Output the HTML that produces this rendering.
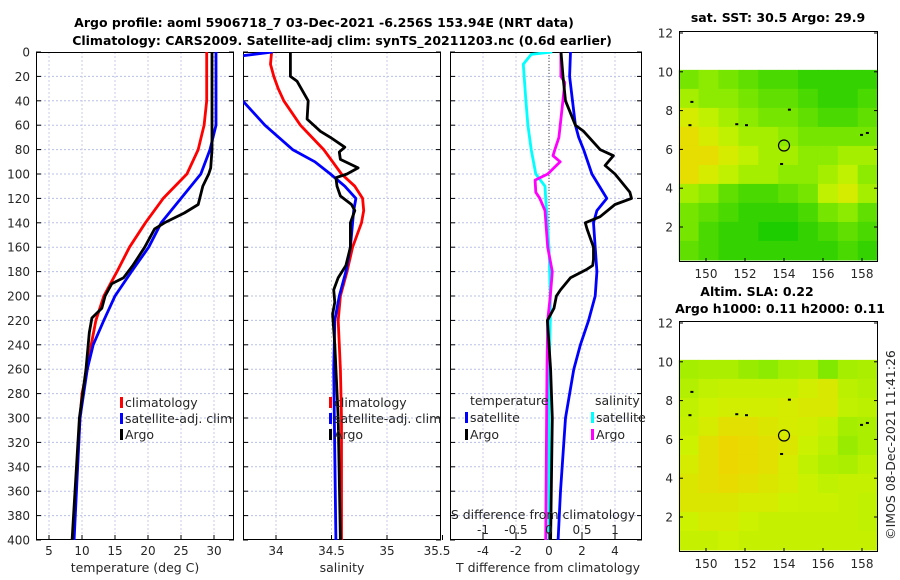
<!DOCTYPE html>
<html><head><meta charset="utf-8"><style>
body{margin:0;background:#fff}
svg{display:block;font-family:"DejaVu Sans","Liberation Sans",sans-serif}
</style></head><body>
<svg id="c" width="900" height="580" viewBox="0 0 900 580"></svg>
<script>
// ---------- data ----------
const depthRedT=[0,20,40,60,80,100,120,140,160,180,200,220,240,260,280,300,340,400];
const climT=[28.9,28.9,28.9,28.5,27.6,25.9,22.3,19.6,17.2,15.3,13.3,12.1,11.4,10.8,10.0,9.7,9.3,8.7];
const depthBlueT=[0,60,80,100,120,140,160,180,200,220,240,260,300,400];
const satT=[30.3,30.3,29.4,28.0,25.0,22.0,20.1,17.5,15.0,13.3,11.7,10.8,9.7,8.8];
const depthArgoT=[0,40,80,95,100,110,125,132,140,145,160,175,185,190,200,210,218,230,260,300,400];
const argoT=[29.7,29.7,29.7,29.5,29.2,28.3,27.6,25.5,22.5,21.0,19.5,17.7,16.3,14.5,13.5,13.0,11.5,11.1,10.6,9.6,8.5];

const depthBlueS=[0,3,10,30,40,60,80,90,100,110,120,130,160,180,200,220,260,400];
const satS=[33.97,33.70,33.3,33.4,33.70,33.90,34.15,34.35,34.49,34.62,34.72,34.70,34.67,34.63,34.57,34.53,34.52,34.54];
const depthRedS=[0,10,20,30,40,60,80,100,110,120,130,140,160,180,200,220,260,300,400];
const climS=[33.96,33.95,33.98,34.02,34.07,34.22,34.43,34.59,34.71,34.78,34.79,34.77,34.69,34.64,34.58,34.56,34.58,34.59,34.59];
const depthArgoS=[0,20,24,40,55,65,70,78,82,88,95,100,103,110,118,125,130,140,160,175,185,195,205,215,240,300,400];
const argoS=[34.13,34.13,34.19,34.29,34.28,34.40,34.49,34.62,34.57,34.58,34.74,34.64,34.54,34.55,34.58,34.68,34.71,34.67,34.67,34.63,34.56,34.52,34.53,34.51,34.53,34.56,34.58];

const depthDTa=[0,20,40,60,65,80,85,93,100,115,120,125,135,140,145,160,170,175,178,185,195,200,210,220,240,260,300,400];
const dTargo=[0.73,0.85,1.0,1.6,2.1,3.1,3.9,3.4,4.0,4.9,5.0,4.0,3.1,2.2,2.3,2.7,2.7,2.65,2.3,1.3,0.7,0.45,0.3,-0.1,0,0.1,0.2,0.1];
const depthDTs=[0,20,60,70,80,100,120,130,140,160,180,200,220,240,260,300,360,400];
const dTsat=[1.3,1.25,1.6,1.8,2.1,2.6,3.5,2.9,2.7,2.8,2.9,2.8,2.4,1.9,1.5,1.0,0.7,0.55];
const depthDSs=[0,2,10,40,60,80,100,110,120,160,200,220,260,400];
const dSsat=[0.05,-0.27,-0.39,-0.35,-0.32,-0.27,-0.2,-0.06,-0.05,0,0.02,0.02,0,0];
const depthDSa=[0,20,25,40,70,80,85,90,100,105,115,120,130,160,180,200,220,260,400];
const dSargo=[0.18,0.18,0.24,0.21,0.15,0.09,0.06,0.17,-0.02,-0.21,-0.2,-0.14,-0.06,-0.02,0.05,0.02,-0.02,-0.03,-0.05];

const depthTicks=[0,20,40,60,80,100,120,140,160,180,200,220,240,260,280,300,320,340,360,380,400];
const tTicks=[5,10,15,20,25,30];
const sTicks=[34,34.5,35,35.5];
const dTTicks=[-4,-2,0,2,4];
const dSTicks=[-1,-0.5,0,0.5,1];
const sstGrid=[
[.4,.5,.4,.3,.2,.2,.1,.1,.1,.1],
[.6,.5,.5,.4,.3,.3,.2,.1,.1,.2],
[.8,.7,.6,.5,.4,.4,.3,.2,.2,.3],
[.9,.8,.7,.6,.6,.5,.4,.4,.4,.4],
[.9,.9,.8,.7,.6,.6,.5,.5,.6,.6],
[.9,.8,.7,.6,.6,.5,.5,.6,.7,.5],
[.6,.5,.3,.2,.2,.3,.4,.7,.8,.6],
[.4,.3,.2,.1,.1,.1,.2,.4,.5,.3],
[.4,.2,.1,.1,0,0,.1,.2,.3,.2],
[.3,.2,.1,.1,.1,.1,.1,.1,.2,.1]];
const slaGrid=[
[.6,.62,.62,.55,.5,.6,.62,.45,.6,.62],
[.65,.7,.72,.72,.72,.72,.78,.82,.68,.65],
[.7,.75,.78,.78,.78,.8,.82,.82,.7,.68],
[.72,.8,.88,.88,.84,.8,.78,.72,.6,.62],
[.75,.88,.95,.92,.88,.84,.74,.68,.55,.62],
[.8,.88,.95,.92,.88,.8,.7,.64,.62,.68],
[.84,.88,.92,.88,.84,.8,.74,.7,.72,.72],
[.84,.84,.84,.8,.8,.75,.74,.74,.72,.7],
[.75,.8,.8,.75,.72,.72,.72,.72,.72,.7],
[.72,.72,.75,.72,.72,.72,.72,.72,.72,.72]];
const lonTicks=[150,152,154,156,158];
const latTicks=[2,4,6,8,10,12];
const argoPos=[154,6.2];

// ---------- helpers ----------
const svg=document.getElementById('c');
const NS='http://www.w3.org/2000/svg';
function el(tag,attrs,parent){const e=document.createElementNS(NS,tag);for(const k in attrs)e.setAttribute(k,attrs[k]);(parent||svg).appendChild(e);return e;}
function txt(s,x,y,opt,parent){const t=el('text',Object.assign({x:x,y:y,'font-size':12,fill:'#262626'},opt||{}),parent);t.textContent=s;return t;}
const Y0=52,Y1=540;
const yD=d=>Y0+d*(Y1-Y0)/400;
function lin(d0,d1,p0,p1){return v=>p0+(v-d0)*(p1-p0)/(d1-d0);}
const P1={x0:36,x1:234}, P2={x0:243,x1:441}, P3={x0:450,x1:642};
const xT=lin(5,30,49,214), xS=lin(34,35,276,387), xDT=lin(0,4,549,615), xDS=lin(0,1,549,615);

function frame(P,name,ticksX,xf){
  const g=el('g',{});
  
  
  el('rect',{x:P.x0,y:Y0,width:P.x1-P.x0,height:Y1-Y0,fill:'#fff'},g);
  depthTicks.forEach(d=>{if(d>0&&d<400)el('line',{x1:P.x0,x2:P.x1,y1:yD(d),y2:yD(d),stroke:'#b8c0e8','stroke-width':1,'stroke-dasharray':'2,2'},g);});
  ticksX.forEach(v=>{const x=xf(v);if(x>P.x0&&x<P.x1)el('line',{x1:x,x2:x,y1:Y0,y2:Y1,stroke:'#c8c8e8','stroke-width':1,'stroke-dasharray':'2,2'},g);});
  depthTicks.forEach(d=>{el('line',{x1:P.x0,x2:P.x0+5,y1:yD(d),y2:yD(d),stroke:'#000'},g);el('line',{x1:P.x1-5,x2:P.x1,y1:yD(d),y2:yD(d),stroke:'#000'},g);});
  ticksX.forEach(v=>{const x=xf(v);if(x>=P.x0&&x<=P.x1+2){el('line',{x1:x,x2:x,y1:Y1,y2:Y1-5,stroke:'#000'},g);}});
  el('rect',{x:P.x0+.5,y:Y0+.5,width:P.x1-P.x0-1,height:Y1-Y0-1,fill:'none',stroke:'#000','stroke-width':1},g);
  const cp=el('clipPath',{id:'cp'+name},g);
  el('rect',{x:P.x0,y:Y0,width:P.x1-P.x0,height:Y1-Y0},cp);
  return g;
}
function line(g,depths,vals,xf,color,name,clip){
  const pts=depths.map((d,i)=>xf(vals[i]).toFixed(1)+','+yD(d).toFixed(1)).join(' ');
  const p=el('polyline',{points:pts,fill:'none',stroke:color,'stroke-width':2.8,'stroke-linejoin':'round','clip-path':'url(#cp'+clip+')'},g);
  
  
}
function legendItem(g,x,y,color,label,name){
  const gg=el('g',{},g);
  
  
  el('rect',{x:x,y:y-10,width:3,height:11,fill:color},gg);
  txt(label,x+5,y,{'font-size':12.5},gg);
}

// titles
txt('Argo profile: aoml 5906718_7 03-Dec-2021 -6.256S 153.94E (NRT data)',324,27,{'font-weight':'bold','font-size':12.5,'text-anchor':'middle',fill:'#000',});
txt('Climatology: CARS2009. Satellite-adj clim: synTS_20211203.nc (0.6d earlier)',342,45,{'font-weight':'bold','font-size':12.5,'text-anchor':'middle',fill:'#000',});

// panel 1
const g1=frame(P1,'temperature-panel',tTicks,xT);
line(g1,depthRedT,climT,xT,'#ff0000','climatology-temperature-line','temperature-panel');
line(g1,depthBlueT,satT,xT,'#0000ff','satellite-temperature-line','temperature-panel');
line(g1,depthArgoT,argoT,xT,'#000000','argo-temperature-line','temperature-panel');
depthTicks.forEach(d=>txt(String(d),30,yD(d)+4.5,{'text-anchor':'end','font-size':12}));
tTicks.forEach(v=>txt(String(v),xT(v),555,{'text-anchor':'middle','font-size':12}));
txt('temperature (deg C)',135,572,{'text-anchor':'middle','font-size':12.5,});
legendItem(g1,120,407,'#ff0000','climatology','legend-climatology');
legendItem(g1,120,423,'#0000ff','satellite-adj. clim','legend-satellite-adj');
legendItem(g1,120,439,'#000000','Argo','legend-argo');

// panel 2
const g2=frame(P2,'salinity-panel',sTicks,xS);
line(g2,depthRedS,climS,xS,'#ff0000','climatology-salinity-line','salinity-panel');
line(g2,depthBlueS,satS,xS,'#0000ff','satellite-salinity-line','salinity-panel');
line(g2,depthArgoS,argoS,xS,'#000000','argo-salinity-line','salinity-panel');
sTicks.forEach(v=>txt(String(v),Math.min(xS(v),437),555,{'text-anchor':'middle','font-size':12}));
txt('salinity',342,572,{'text-anchor':'middle','font-size':12.5,});
legendItem(g2,329,407,'#ff0000','climatology','legend-climatology-s');
legendItem(g2,329,423,'#0000ff','satellite-adj. clim','legend-satellite-adj-s');
legendItem(g2,329,439,'#000000','Argo','legend-argo-s');

// panel 3
const g3=frame(P3,'difference-panel',dTTicks,xDT);
el('line',{x1:xDT(0),x2:xDT(0),y1:Y0,y2:Y1,stroke:'#444','stroke-width':1,'stroke-dasharray':'1,2'},g3);
line(g3,depthDSs,dSsat,xDS,'#00ffff','satellite-salinity-diff-line','difference-panel');
line(g3,depthDSa,dSargo,xDS,'#ff00ff','argo-salinity-diff-line','difference-panel');
line(g3,depthDTs,dTsat,xDT,'#0000ff','satellite-temperature-diff-line','difference-panel');
line(g3,depthDTa,dTargo,xDT,'#000000','argo-temperature-diff-line','difference-panel');
dTTicks.forEach(v=>txt(String(v),xDT(v),555,{'text-anchor':'middle','font-size':12}));
txt('T difference from climatology',548,572,{'text-anchor':'middle','font-size':12.5,});
txt('S difference from climatology',543,519,{'text-anchor':'middle','font-size':12.5,});
dSTicks.forEach(v=>{txt(String(v),xDS(v),534,{'text-anchor':'middle','font-size':12});el('line',{x1:xDS(v),x2:xDS(v),y1:532,y2:540,stroke:'#000'},g3);});
txt('temperature',470,405,{'font-size':12.5});
txt('salinity',595,405,{'font-size':12.5});
legendItem(g3,465,422,'#0000ff','satellite','legend-t-satellite');
legendItem(g3,465,439,'#000000','Argo','legend-t-argo');
legendItem(g3,591,422,'#00ffff','satellite','legend-s-satellite');
legendItem(g3,591,439,'#ff00ff','Argo','legend-s-argo');

// maps
const stops=[[0,[30,205,0]],[0.5,[140,235,0]],[0.75,[205,242,0]],[1,[245,208,0]]];
function cmap(v){for(let i=1;i<stops.length;i++){if(v<=stops[i][0]){const a=stops[i-1],b=stops[i];const t=(v-a[0])/(b[0]-a[0]);return 'rgb('+a[1].map((c,k)=>Math.round(c+t*(b[1][k]-c))).join(',')+')';}}return 'rgb(245,208,0)';}
function map(top,grid,name){
  const X0=679,X1=878,T=top,B=top+231;
  const xl=lin(150,158,706,862), yl=lin(12,2,T+2,T+196);
  const g=el('g',{});
  
  
  el('rect',{x:X0,y:T,width:X1-X0,height:B-T,fill:'#fff'},g);
  const lon0=148.6,lon1=158.8,lat0=10.1,lat1=0.3;
  const nr=grid.length,nc=grid[0].length;
  grid.forEach((row,r)=>row.forEach((v,c)=>{
    const xa=xl(lon0+(lon1-lon0)*c/nc), xb=xl(lon0+(lon1-lon0)*(c+1)/nc);
    const ya=yl(lat0+(lat1-lat0)*r/nr), yb=yl(lat0+(lat1-lat0)*(r+1)/nr);
    const cell=el('rect',{x:xa,y:ya,width:xb-xa+0.5,height:yb-ya+0.5,fill:cmap(v)},g);
    
    
  }));
  [[152,7.3],[151.5,7.35],[154.2,8.1],[158.2,6.9],[157.9,6.8],[153.8,5.3],[149.2,8.5],[149.1,7.3]].forEach(p=>el('rect',{x:xl(p[0]),y:yl(p[1]),width:3,height:2,fill:'#000'},g));
  const cc=el('circle',{cx:xl(argoPos[0]),cy:yl(argoPos[1]),r:5.5,fill:'none',stroke:'#000','stroke-width':1.2},g);
  
  
  el('rect',{x:X0+.5,y:T+.5,width:X1-X0-1,height:B-T-1,fill:'none',stroke:'#000'},g);
  latTicks.forEach(v=>{const y=yl(v);el('line',{x1:X0,x2:X0+4,y1:y,y2:y,stroke:'#000'},g);el('line',{x1:X1-4,x2:X1,y1:y,y2:y,stroke:'#000'},g);txt(String(v),673,y+4.5,{'text-anchor':'end','font-size':12});});
  lonTicks.forEach(v=>{const x=xl(v);el('line',{x1:x,x2:x,y1:B,y2:B-4,stroke:'#000'},g);txt(String(v),x,B+16,{'text-anchor':'middle','font-size':12});});
}
txt('sat. SST: 30.5 Argo: 29.9',778,22,{'font-weight':'bold','font-size':12.5,'text-anchor':'middle',fill:'#000',});
map(31,sstGrid,'sst-map');
txt('Altim. SLA: 0.22',757,296,{'font-weight':'bold','font-size':12.5,'text-anchor':'middle',fill:'#000',});
txt('Argo h1000: 0.11 h2000: 0.11',780,313,{'font-weight':'bold','font-size':12.5,'text-anchor':'middle',fill:'#000',});
map(321,slaGrid,'sla-map');
txt('©IMOS 08-Dec-2021 11:41:26',0,0,{'font-size':12.5,'text-anchor':'middle',transform:'translate(895,445) rotate(-90)',});
</script>
</body></html>
